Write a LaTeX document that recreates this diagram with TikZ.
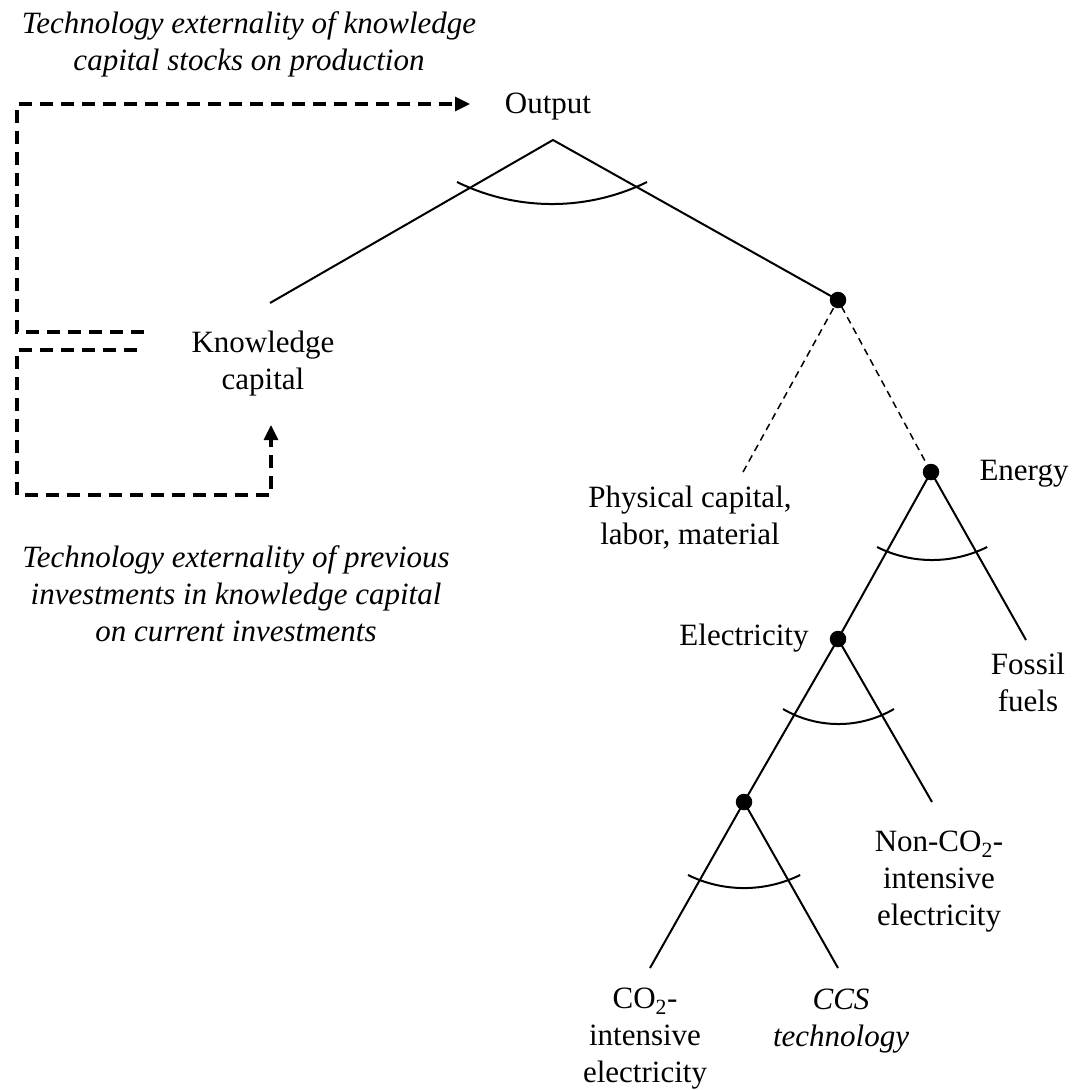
\documentclass[tikz,border=0pt]{standalone}
\usepackage{fontspec}
\setmainfont{Liberation Serif}
\usetikzlibrary{arrows.meta}

\begin{document}
\begin{tikzpicture}[x=1pt,y=-1pt,
    every node/.style={inner sep=0pt, align=center, font=\fontsize{31}{37}\selectfont},
    dot/.style={circle, fill=black, minimum size=16.5pt},
    branch/.style={line width=2pt},
    subst/.style={line width=1.5pt, dash pattern=on 7pt off 5pt},
    feedback/.style={line width=3.2pt, dash pattern=on 13pt off 8pt, -{Triangle[length=15pt,width=14pt]}},
    note/.style={font=\fontsize{31}{37}\selectfont\itshape}]
        \useasboundingbox (0,0) rectangle (1074,1090);

        % Notes on the externalities
        \node[note] (topnote) at (249,44) {Technology externality of knowledge\\capital stocks on production};
        \node[note] (botnote) at (236,594) {Technology externality of previous\\investments in knowledge capital\\on current investments};

        % Output nest
        \node[anchor=base] (out) at (548,113) {Output};
        \coordinate (apex) at (553,140);
        \node (know) at (263,364) {Knowledge\\capital};
        \coordinate (kend) at (270,303);
        \node[dot] (d1) at (838,300) {};
        \draw[branch] (kend) -- (apex) -- (d1.center);

        % Feedback loops
        \coordinate (loop1) at (144,332);
        \coordinate (tipout) at (470,104);
        \coordinate (loop2) at (137,350);
        \coordinate (tipknow) at (271,425);
        \draw[feedback] (loop1) -- (17,332) |- (tipout);
        \draw[feedback] (loop2) -- (17,350) |- (271,495) -- (tipknow);

        % Capital-labor-material and energy
        \coordinate (pend) at (743,472);
        \node[dot] (d2) at (931,472) {};
        \draw[subst] (pend) -- (d1.center) -- (d2.center);
        \node (phys) at (690,518) {Physical capital,\\labor, material};
        \node[anchor=base] (energy) at (1024,480) {Energy};

        % Energy nest
        \node[dot] (d3) at (838,639) {};
        \coordinate (fend) at (1026,640);
        \draw[branch] (d3.center) -- (d2.center) -- (fend);
        \node (fossil) at (1028,682) {Fossil\\fuels};
        \node[anchor=base] (elec) at (744,645) {Electricity};

        % Electricity nest
        \node[dot] (d4) at (744,802) {};
        \coordinate (nend) at (932,802);
        \draw[branch] (d4.center) -- (d3.center) -- (nend);
        \node (nonco) at (939,882) {Non-CO\textsubscript{2}-\\intensive\\electricity};
        \coordinate (cend) at (650,968);
        \coordinate (send) at (838,968);
        \draw[branch] (cend) -- (d4.center) -- (send);
        \node (co) at (645,1039) {CO\textsubscript{2}-\\intensive\\electricity};
        \node[note] (ccs) at (841,1021) {CCS\\technology};

        % Substitution arcs
        \foreach \x/\y/\r/\t in {457/182/216/26.1, 877/547/123/26.6, 783/709/110/30.3, 688/875/127/26.2}
        \draw[branch] (\x,\y) arc[start angle=90+\t, end angle=90-\t, radius=\r];
\end{tikzpicture}
\end{document}
